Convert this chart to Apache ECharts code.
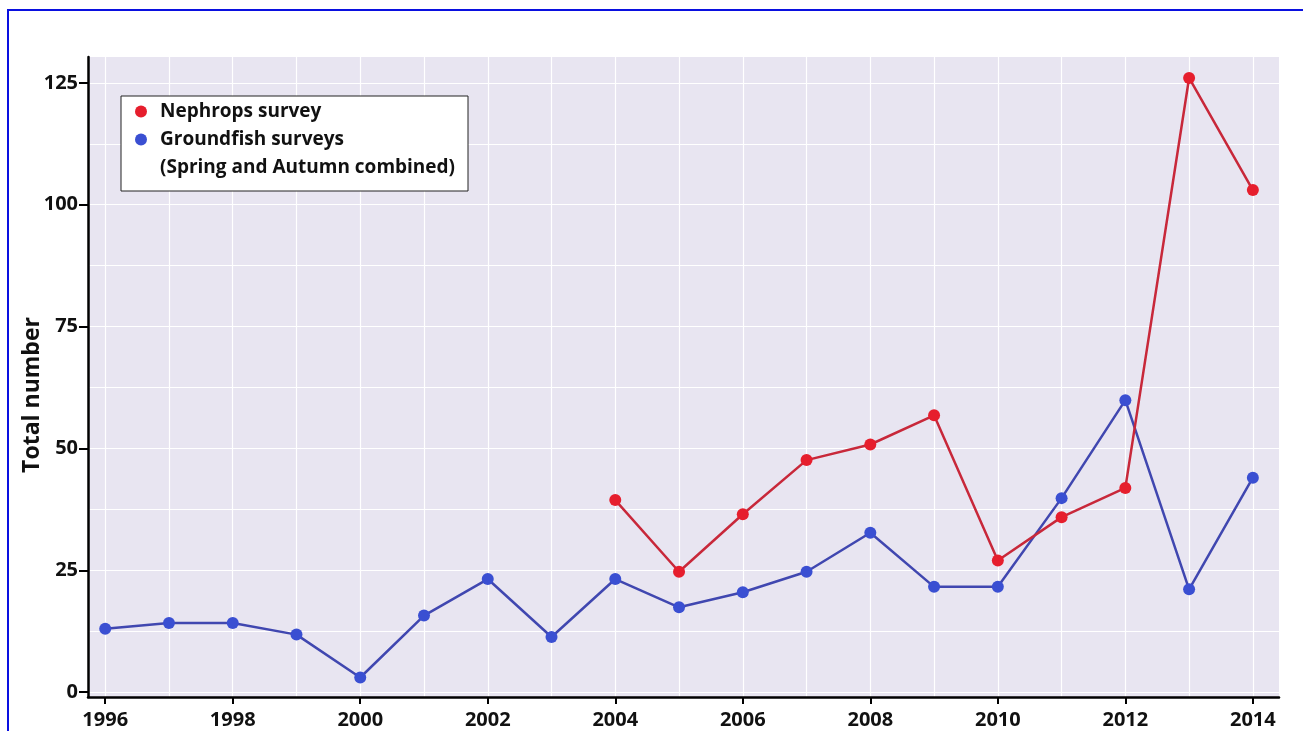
<!DOCTYPE html>
<html>
<head>
<meta charset="utf-8">
<script src="https://cdn.jsdelivr.net/npm/echarts@6/dist/echarts.min.js"></script>
<style>
html,body{margin:0;padding:0;background:#fff;}
#frame{position:absolute;left:7px;top:9px;width:1296px;height:722px;border-top:2px solid #0a10e0;border-left:2px solid #0a10e0;}
#chart{position:absolute;left:0;top:0;width:1303px;height:731px;}
</style>
</head>
<body>
<div id="frame"></div>
<div id="chart"></div>
<script>
const years = [1996,1997,1998,1999,2000,2001,2002,2003,2004,2005,2006,2007,2008,2009,2010,2011,2012,2013,2014];
const groundfish = [13,14.2,14.2,11.8,3,15.7,23.2,11.3,23.2,17.4,20.5,24.7,32.7,21.6,21.6,39.8,59.9,21.1,44];
const nephrops = [null,null,null,null,null,null,null,null,39.4,24.7,36.5,47.6,50.8,56.8,27,35.9,41.9,126,103];
const xLabelYears = [1996,1998,2000,2002,2004,2006,2008,2010,2012,2014];
const yLabels = [0,25,50,75,100,125];
const yGrid = [0,12.5,25,37.5,50,62.5,75,87.5,100,112.5,125];
const seriesNames = ['Nephrops survey','Groundfish surveys'];
const legendNote = '(Spring and Autumn combined)';

const FONT = '"Open Sans", "DejaVu Sans", sans-serif';
const chart = echarts.init(document.getElementById('chart'), null, {renderer:'canvas'});
const toPairs = arr => years.map((y,i)=>[y, arr[i]]);
const xMin = 1995.73, xMax = 2014.41, yMin = -1.0, yMax = 130.3;

chart.setOption({
  backgroundColor: 'transparent',
  animation: false,
  grid: {left: 88, right: 24, top: 57, bottom: 34, show: true, backgroundColor: '#e8e5f1', borderWidth: 0},
  legend: {
    orient: 'vertical', left: 121, top: 96,
    padding: [6, 124, 42, 14],
    itemGap: 9, itemWidth: 12, itemHeight: 12,
    backgroundColor: '#ffffff', borderColor: '#222', borderWidth: 1,
    data: seriesNames.map(n=>({name:n, icon:'circle'})),
    textStyle: {fontFamily: FONT, fontWeight: 'bold', fontSize: 19, color: '#111', padding:[0,0,0,8]}
  },
  graphic: [{
    type: 'text', left: 160, top: 158, z: 100,
    style: {text: legendNote, fontFamily: FONT, fontWeight: 'bold', fontSize: 19, fill: '#111'}
  }],
  xAxis: [{
    type: 'value', min: xMin, max: xMax, position: 'bottom',
    axisLine: {show: true, onZero: false, lineStyle: {color: '#000', width: 2.5}},
    axisTick: {show: true, length: 7, customValues: xLabelYears, lineStyle: {color: '#000', width: 2}},
    axisLabel: {customValues: xLabelYears, formatter: v => String(v), fontFamily: FONT, fontWeight: 'bold', fontSize: 20, color: '#111', margin: 13},
    splitLine: {show: false}
  },{
    type: 'value', min: xMin, max: xMax, position: 'bottom',
    axisLine: {show: false}, axisLabel: {show: false},
    axisTick: {show: false, customValues: years},
    splitLine: {show: true, lineStyle: {color: '#ffffff', width: 1.2}}
  }],
  yAxis: [{
    type: 'value', min: yMin, max: yMax,
    name: 'Total number', nameLocation: 'middle', nameGap: 44, nameRotate: 90, nameMoveOverlap: false,
    nameTextStyle: {fontFamily: FONT, fontWeight: 'bold', fontSize: 23, color: '#111', padding: [0, 36, 0, 0]},
    axisLine: {show: true, onZero: false, lineStyle: {color: '#000', width: 2.5}},
    axisTick: {show: true, length: 9, customValues: yLabels, lineStyle: {color: '#000', width: 2}},
    axisLabel: {customValues: yLabels, formatter: v => String(v), fontFamily: FONT, fontWeight: 'bold', fontSize: 20, color: '#111', margin: 10},
    splitLine: {show: false}
  },{
    type: 'value', min: yMin, max: yMax, position: 'left',
    axisLine: {show: false}, axisLabel: {show: false},
    axisTick: {show: false, customValues: yGrid},
    splitLine: {show: true, lineStyle: {color: '#ffffff', width: 1.2}}
  }],
  series: [{
    name: seriesNames[1], type: 'line', xAxisIndex: 0, yAxisIndex: 0,
    data: toPairs(groundfish), symbol: 'circle', symbolSize: 12,
    itemStyle: {color: '#3a4fd2'}, lineStyle: {color: '#4047b0', width: 2.5}, z: 3
  },{
    name: seriesNames[0], type: 'line', xAxisIndex: 0, yAxisIndex: 0,
    data: toPairs(nephrops), symbol: 'circle', symbolSize: 12, connectNulls: false,
    itemStyle: {color: '#e61e2d'}, lineStyle: {color: '#c8283a', width: 2.5}, z: 4
  }]
});
</script>
</body>
</html>
